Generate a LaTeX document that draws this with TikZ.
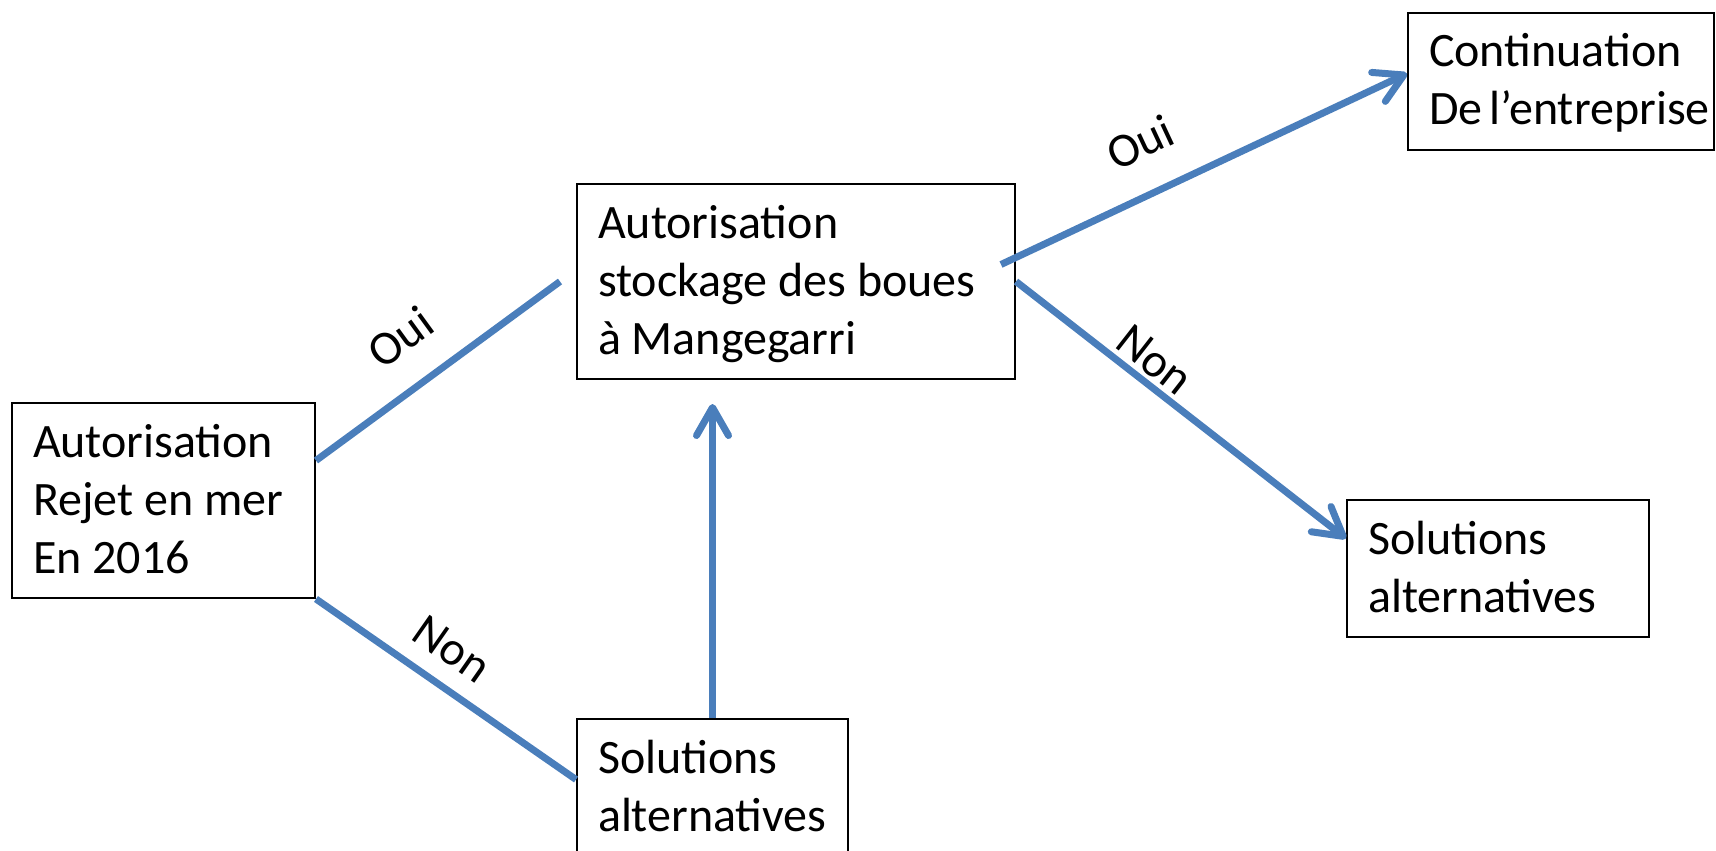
\documentclass[tikz,border=0pt]{standalone}
\usepackage{fontspec}
\setmainfont{Carlito}
\usetikzlibrary{arrows.meta}
\definecolor{lineblue}{RGB}{74,126,187}
\newcommand{\boxtop}{\rule{0pt}{27pt}}
\newcommand{\boxbot}{\rule[-12.5pt]{0pt}{12.5pt}}
\begin{document}
\begin{tikzpicture}[x=0.5pt,y=-0.5pt,
        font=\fontsize{24pt}{29pt}\selectfont,
        box/.style={draw, line width=1pt, anchor=north west, align=flush left,
            inner xsep=10.5pt, inner ysep=0pt,
            execute at begin node=\boxtop, execute at end node=\boxbot},
        link/.style={lineblue, line width=3.5pt},
        arr/.style={link, -{Straight Barb[length=14pt,width=16pt,round]}},
        lbl/.style={inner sep=0pt}]
    \useasboundingbox (0,0) rectangle (1716,850);
    \node[box, text width=130.5pt] (rejet) at (11,402) {Autorisation\\Rejet en mer\\En 2016};
    \node[box, text width=198pt] (stock) at (576,183) {Autorisation\\stockage des boues\\à Mangegarri};
    \node[box, text width=114.5pt] (solA) at (576,718) {Solutions\\alternatives};
    \node[box, text width=130pt] (solB) at (1346,499) {Solutions\\alternatives};
    \node[box, text width=132pt] (suite) at (1407,12) {Continuation\\De~l’entreprise};
    \coordinate (stockin) at (solA.north |- stock.south);
    \draw[link] ([yshift=20pt]rejet.east) -- ([xshift=-8pt]stock.west);
    \draw[link] (rejet.south east) -- ([yshift=4pt]solA.west);
    \draw[arr] (solA.north) -- ([yshift=-12pt]stockin);
    \draw[arr] ([xshift=-7.5pt,yshift=8.5pt]stock.east) -- ([yshift=4pt]suite.west);
    \draw[arr] (stock.east) -- ([yshift=15pt]solB.west);
    \node[lbl, rotate=36] (ouiA) at (400,337) {Oui};
    \node[lbl, rotate=-35] (nonA) at (452,649) {Non};
    \node[lbl, rotate=25] (ouiB) at (1140,142) {Oui};
    \node[lbl, rotate=-38] (nonB) at (1155,360) {Non};
\end{tikzpicture}
\end{document}
